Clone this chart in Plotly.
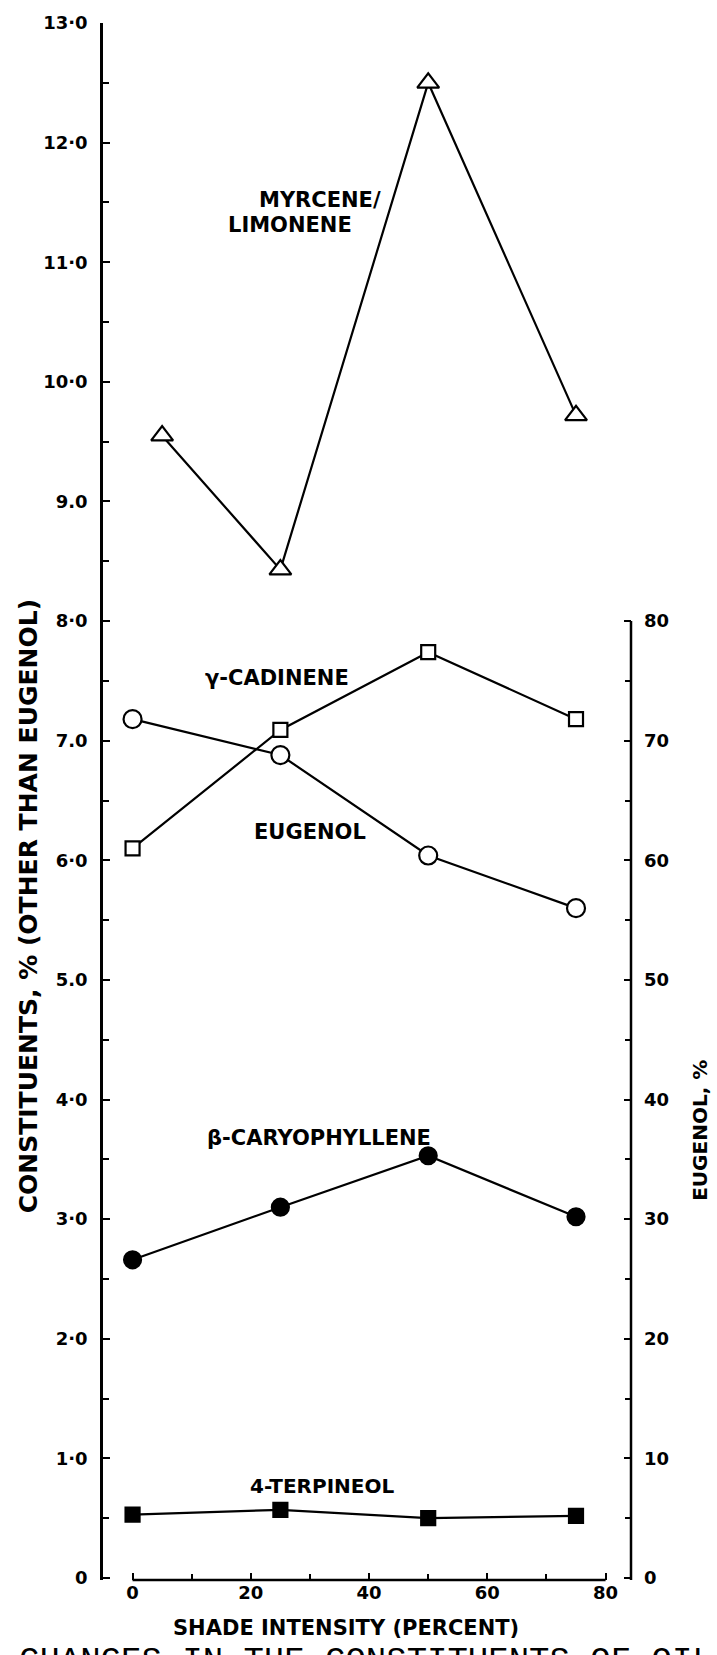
import plotly.graph_objects as go

# ---------------- data ----------------
shade_myrcene = [5, 25, 50, 75]
myrcene_limonene = [9.55, 8.43, 12.5, 9.72]

shade = [0, 25, 50, 75]
gamma_cadinene = [6.10, 7.09, 7.74, 7.18]
eugenol_pct = [71.8, 68.8, 60.4, 56.0]          # right axis (EUGENOL, %)
beta_caryophyllene = [2.66, 3.10, 3.53, 3.02]
terpineol_4 = [0.53, 0.57, 0.50, 0.52]

left_tick_vals = [0, 1, 2, 3, 4, 5, 6, 7, 8, 9, 10, 11, 12, 13]
left_tick_text = ["0", "1·0", "2·0", "3·0", "4·0", "5.0", "6·0", "7.0",
                  "8·0", "9.0", "10·0", "11·0", "12·0", "13·0"]
left_minor_vals = [0.5, 1.5, 2.5, 3.5, 4.5, 5.5, 6.5, 7.5, 8.5, 9.5, 10.5, 11.5, 12.5]
right_tick_vals = [0, 10, 20, 30, 40, 50, 60, 70, 80]
right_tick_text = ["0", "10", "20", "30", "40", "50", "60", "70", "80"]
right_minor_vals = [5, 15, 25, 35, 45, 55, 65, 75]
x_tick_vals = [0, 20, 40, 60, 80]
x_tick_text = ["0", "20", "40", "60", "80"]
x_minor_vals = [10, 30, 50, 70]

FONT = "DejaVu Sans"
BLACK = "black"

fig = go.Figure()

def add_series(x, y, symbol, filled, size, yaxis="y"):
    fig.add_trace(go.Scatter(
        x=x, y=y, mode="lines+markers", yaxis=yaxis,
        line=dict(color=BLACK, width=2.2),
        marker=dict(symbol=symbol, size=size,
                    color=BLACK if filled else "white",
                    line=dict(color=BLACK, width=2.2)),
        showlegend=False, hoverinfo="x+y"))

add_series(shade_myrcene, myrcene_limonene, "triangle-up", False, 19)
add_series(shade, gamma_cadinene, "square", False, 14)
add_series(shade, beta_caryophyllene, "circle", True, 17)
add_series(shade, terpineol_4, "square", True, 14)
add_series(shade, eugenol_pct, "circle", False, 18, yaxis="y2")

Y_MIN, Y_MAX = -0.0167, 13.0
TICKFONT = dict(size=18, family=FONT, color=BLACK, weight="bold")

fig.update_layout(
    width=717, height=1655,
    margin=dict(l=103, r=86, t=20, b=75),
    paper_bgcolor="white", plot_bgcolor="white",
    font=dict(family=FONT, color=BLACK, size=18),
    xaxis=dict(range=[-5.0, 84.3], showgrid=False, zeroline=False,
               showline=False, tickmode="array", tickvals=x_tick_vals,
               ticktext=x_tick_text, ticks="inside", ticklen=7, tickwidth=2,
               tickcolor=BLACK, tickfont=TICKFONT,
               minor=dict(tickmode="array", tickvals=x_minor_vals,
                          ticks="inside", ticklen=6, tickwidth=2,
                          tickcolor=BLACK)),
    yaxis=dict(range=[Y_MIN, Y_MAX], showgrid=False, zeroline=False,
               showline=True, linewidth=2.5, linecolor=BLACK,
               tickmode="array", tickvals=left_tick_vals,
               ticktext=left_tick_text, ticks="inside", ticklen=7,
               tickwidth=2, tickcolor=BLACK, tickfont=TICKFONT,
               ticklabelstandoff=9,
               minor=dict(tickmode="array", tickvals=left_minor_vals,
                          ticks="inside", ticklen=6, tickwidth=2,
                          tickcolor=BLACK)),
    yaxis2=dict(range=[Y_MIN * 10, Y_MAX * 10], overlaying="y", side="right",
                anchor="x", showgrid=False, zeroline=False, showline=False,
                tickmode="array", tickvals=right_tick_vals,
                ticktext=right_tick_text, ticks="inside", ticklen=7,
                tickwidth=2, tickcolor=BLACK, tickfont=TICKFONT,
                ticklabelstandoff=12,
                minor=dict(tickmode="array", tickvals=right_minor_vals,
                           ticks="inside", ticklen=6, tickwidth=2,
                           tickcolor=BLACK)),
)

# x-axis line only from 0 to 80, right axis line only from bottom to 80
fig.add_shape(type="line", xref="x", yref="paper", x0=x_tick_vals[0],
              x1=x_tick_vals[-1], y0=0, y1=0,
              line=dict(color=BLACK, width=2.5))
fig.add_shape(type="line", xref="paper", yref="y2", x0=1, x1=1,
              y0=Y_MIN * 10, y1=right_tick_vals[-1],
              line=dict(color=BLACK, width=2.5))

def label(text, x, y, size=21):
    fig.add_annotation(text=text, x=x, y=y, xref="x", yref="y",
                       xanchor="left", yanchor="middle", showarrow=False,
                       font=dict(size=size, family=FONT, color=BLACK,
                                 weight="bold"))

label("MYRCENE/", 21.0, 11.52)
label("LIMONENE", 15.8, 11.31)
label("γ-CADINENE", 11.9, 7.52)
label("EUGENOL", 20.2, 6.24)
label("β-CARYOPHYLLENE", 12.2, 3.68)
label("4-TERPINEOL", 19.5, 0.77, size=20)

# axis titles
fig.add_annotation(text="CONSTITUENTS, % (OTHER THAN EUGENOL)",
                   xref="paper", yref="paper", x=-0.142, y=0.4327,
                   xanchor="center", yanchor="middle",
                   textangle=-90, showarrow=False,
                   font=dict(size=25, family=FONT, color=BLACK, weight="bold"))
fig.add_annotation(text="EUGENOL, %", xref="paper", yref="paper",
                   x=1.1307, y=0.2885, xanchor="center", yanchor="middle",
                   textangle=-90, showarrow=False,
                   font=dict(size=20, family=FONT, color=BLACK, weight="bold"))
fig.add_annotation(text="SHADE INTENSITY (PERCENT)", xref="paper",
                   yref="paper", x=0.4602, y=-0.0308, xanchor="center",
                   yanchor="middle", showarrow=False,
                   font=dict(size=21, family=FONT, color=BLACK, weight="bold"))
# caption of the page, cut by the bottom edge in the reference
fig.add_annotation(text="CHANGES IN THE CONSTITUENTS OF OIL", xref="paper",
                   yref="paper", x=0.498, y=-0.0385, yanchor="top",
                   xanchor="center", showarrow=False,
                   font=dict(size=34, family="Liberation Mono", color=BLACK))

fig.write_html("out.html")
